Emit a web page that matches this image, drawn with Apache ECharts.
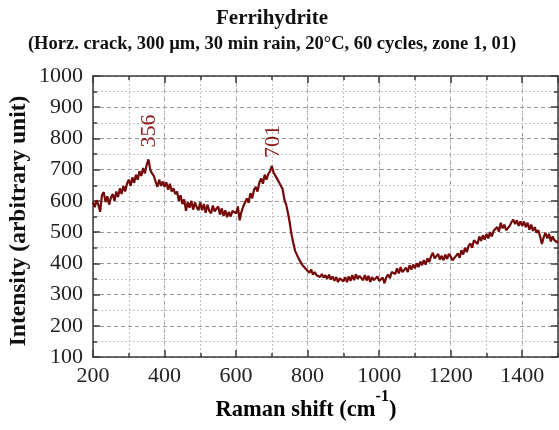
<!DOCTYPE html>
<html><head><meta charset="utf-8">
<script src="https://cdn.jsdelivr.net/npm/echarts@6/dist/echarts.min.js"></script>
<style>html,body{margin:0;padding:0;background:#fff}#c{width:559px;height:430px}</style>
</head><body><div id="c"></div>
<script>
const shift = [
200,205,210,215,220,225,230,235,240,245,250,255,260,265,270,275,280,285,290,295,
300,305,310,315,320,325,330,335,340,345,350,355,360,365,370,375,380,385,390,395,
400,405,410,415,420,425,430,435,440,445,450,455,460,465,470,475,480,485,490,495,
500,505,510,515,520,525,530,535,540,545,550,555,560,565,570,575,580,585,590,595,
600,605,610,615,620,625,630,635,640,645,650,655,660,665,670,675,680,685,690,695,
700,705,710,715,720,725,730,735,740,745,750,755,760,765,770,775,780,785,790,795,
800,805,810,815,820,825,830,835,840,845,850,855,860,865,870,875,880,885,890,895,
900,905,910,915,920,925,930,935,940,945,950,955,960,965,970,975,980,985,990,995,
1000,1005,1010,1015,1020,1025,1030,1035,1040,1045,1050,1055,1060,1065,1070,1075,1080,1085,1090,1095,
1100,1105,1110,1115,1120,1125,1130,1135,1140,1145,1150,1155,1160,1165,1170,1175,1180,1185,1190,1195,
1200,1205,1210,1215,1220,1225,1230,1235,1240,1245,1250,1255,1260,1265,1270,1275,1280,1285,1290,1295,
1300,1305,1310,1315,1320,1325,1330,1335,1340,1345,1350,1355,1360,1365,1370,1375,1380,1385,1390,1395,
1400,1405,1410,1415,1420,1425,1430,1435,1440,1445,1450,1455,1460,1465,1470,1475,1480,1485,1490,1495,
1500];
const intensity = [
596,580,602,588,565,618,628,596,615,588,610,622,600,630,612,640,622,648,630,655,
668,648,675,658,684,668,695,680,705,688,715,733,700,688,680,662,645,668,648,662,
645,660,636,655,630,640,622,630,600,618,590,605,568,596,578,600,572,595,580,570,
596,570,590,562,588,568,560,585,566,575,582,556,576,552,570,548,565,550,568,574,
560,582,538,565,582,595,608,594,625,608,635,645,630,658,672,655,684,668,686,695,
712,690,680,684,660,655,638,605,588,562,530,492,465,440,435,415,410,395,398,382,
385,370,380,364,372,362,368,356,366,354,362,350,364,348,358,344,356,340,352,346,
342,356,340,358,344,362,346,365,350,360,366,346,362,345,360,340,356,346,352,358,
344,338,354,336,356,364,352,372,378,366,384,368,388,372,366,386,372,394,380,396,
384,400,388,406,394,410,396,416,404,422,434,416,410,430,412,424,410,428,414,430,
422,410,404,424,432,418,442,428,450,436,456,464,450,474,478,462,486,472,490,476,
494,480,500,486,504,498,516,502,530,512,524,506,500,520,532,540,526,538,520,534,
520,534,516,530,508,524,504,516,498,506,486,462,484,498,480,494,470,486,474,478,
466];
const xTickLabels = [200,400,600,800,1000,1200,1400];
const yTickLabels = [100,200,300,400,500,600,700,800,900,1000];
const peakShift = [357, 703];
const peakLabelY = [824, 790];
const peakText = ['356', '701'];

const FONT = 'Liberation Serif';
const AX = '#3c3c3c';
const chart = echarts.init(document.getElementById('c'), null, {renderer:'canvas'});
const data = shift.map((x, i) => [x, intensity[i]]);
const common = {type:'value', min:200, max:1500};
chart.setOption({
  animation:false,
  grid:{left:93, right:1, top:76, bottom:73},
  xAxis:[
    Object.assign({}, common, {position:'bottom', interval:200,
      axisLine:{show:true, lineStyle:{color:AX, width:1.5}},
      axisTick:{show:true, inside:true, length:7, lineStyle:{color:AX, width:1.5}},
      axisLabel:{show:true, showMaxLabel:false, margin:8, fontFamily:FONT, fontSize:22, color:'#222',
        formatter:v => xTickLabels.includes(v) ? String(v) : ''},
      splitLine:{show:true, lineStyle:{type:[4,3], color:'#9a9a9a', width:1}}}),
    Object.assign({}, common, {position:'bottom', interval:100,
      axisLine:{show:false},
      axisTick:{show:true, inside:true, length:4, lineStyle:{color:AX, width:1.5}},
      axisLabel:{show:false},
      splitLine:{show:true, lineStyle:{type:[2,2], color:'#c4c4c4', width:1}}}),
    Object.assign({}, common, {position:'top', interval:200,
      axisLine:{show:true, lineStyle:{color:AX, width:1.5}},
      axisTick:{show:true, inside:true, length:7, lineStyle:{color:AX, width:1.5}},
      axisLabel:{show:false}, splitLine:{show:false}}),
    Object.assign({}, common, {position:'top', interval:100,
      axisLine:{show:false},
      axisTick:{show:true, inside:true, length:4, lineStyle:{color:AX, width:1.5}},
      axisLabel:{show:false}, splitLine:{show:false}})
  ],
  yAxis:[
    {type:'value', min:100, max:1000, interval:100, position:'left',
      axisLine:{show:true, lineStyle:{color:AX, width:1.5}},
      axisTick:{show:true, inside:true, length:7, lineStyle:{color:AX, width:1.5}},
      minorTick:{show:true, splitNumber:2, length:4, lineStyle:{color:AX, width:1.5}},
      minorSplitLine:{show:true, lineStyle:{type:[2,2], color:'#c4c4c4', width:1}},
      splitLine:{show:true, lineStyle:{type:[4,3], color:'#9a9a9a', width:1}},
      axisLabel:{margin:10, fontFamily:FONT, fontSize:22, color:'#222',
        formatter:v => yTickLabels.includes(v) ? String(v) : ''}},
    {type:'value', min:100, max:1000, interval:100, position:'right',
      axisLine:{show:true, lineStyle:{color:AX, width:1.5}},
      axisTick:{show:true, inside:true, length:7, lineStyle:{color:AX, width:1.5}},
      minorTick:{show:true, splitNumber:2, length:4, lineStyle:{color:AX, width:1.5}},
      axisLabel:{show:false}, splitLine:{show:false}}
  ],
  series:[{
    type:'line', xAxisIndex:0, yAxisIndex:0, data:data, showSymbol:false, symbol:'none',
    sampling:null, smooth:false,
    lineStyle:{color:'#750808', width:2.2},
    markPoint:{
      symbol:'circle', symbolSize:0,
      label:{show:true, position:'inside', rotate:90, fontFamily:FONT, fontSize:22, color:'#8b1c1c',
        formatter:p => p.name},
      data: peakShift.map((x, i) => ({name:peakText[i], coord:[x, peakLabelY[i]]}))
    }
  }],
  graphic:[
    {type:'text', x:272, y:19, style:{text:'Ferrihydrite', align:'center', verticalAlign:'middle',
      font:'bold 21px "Liberation Serif"', fill:'#111'}},
    {type:'text', x:272, y:44, style:{text:'(Horz. crack, 300 µm, 30 min rain, 20°C, 60 cycles, zone 1, 01)',
      align:'center', verticalAlign:'middle', font:'bold 18.5px "Liberation Serif"', fill:'#111'}},
    {type:'text', x:19, y:221, rotation:Math.PI/2, style:{text:'Intensity (arbitrary unit)',
      align:'center', verticalAlign:'middle', font:'bold 23.5px "Liberation Serif"', fill:'#111'}},
    {type:'text', x:306, y:410, style:{text:'{a|Raman shift (cm}{s|-1}{a|)}', align:'center', verticalAlign:'middle',
      rich:{a:{fontFamily:FONT, fontWeight:'bold', fontSize:22.5, lineHeight:42, color:'#111'},
            s:{fontFamily:FONT, fontWeight:'bold', fontSize:16, verticalAlign:'top', lineHeight:16, color:'#111'}}}}
  ]
});
</script></body></html>
